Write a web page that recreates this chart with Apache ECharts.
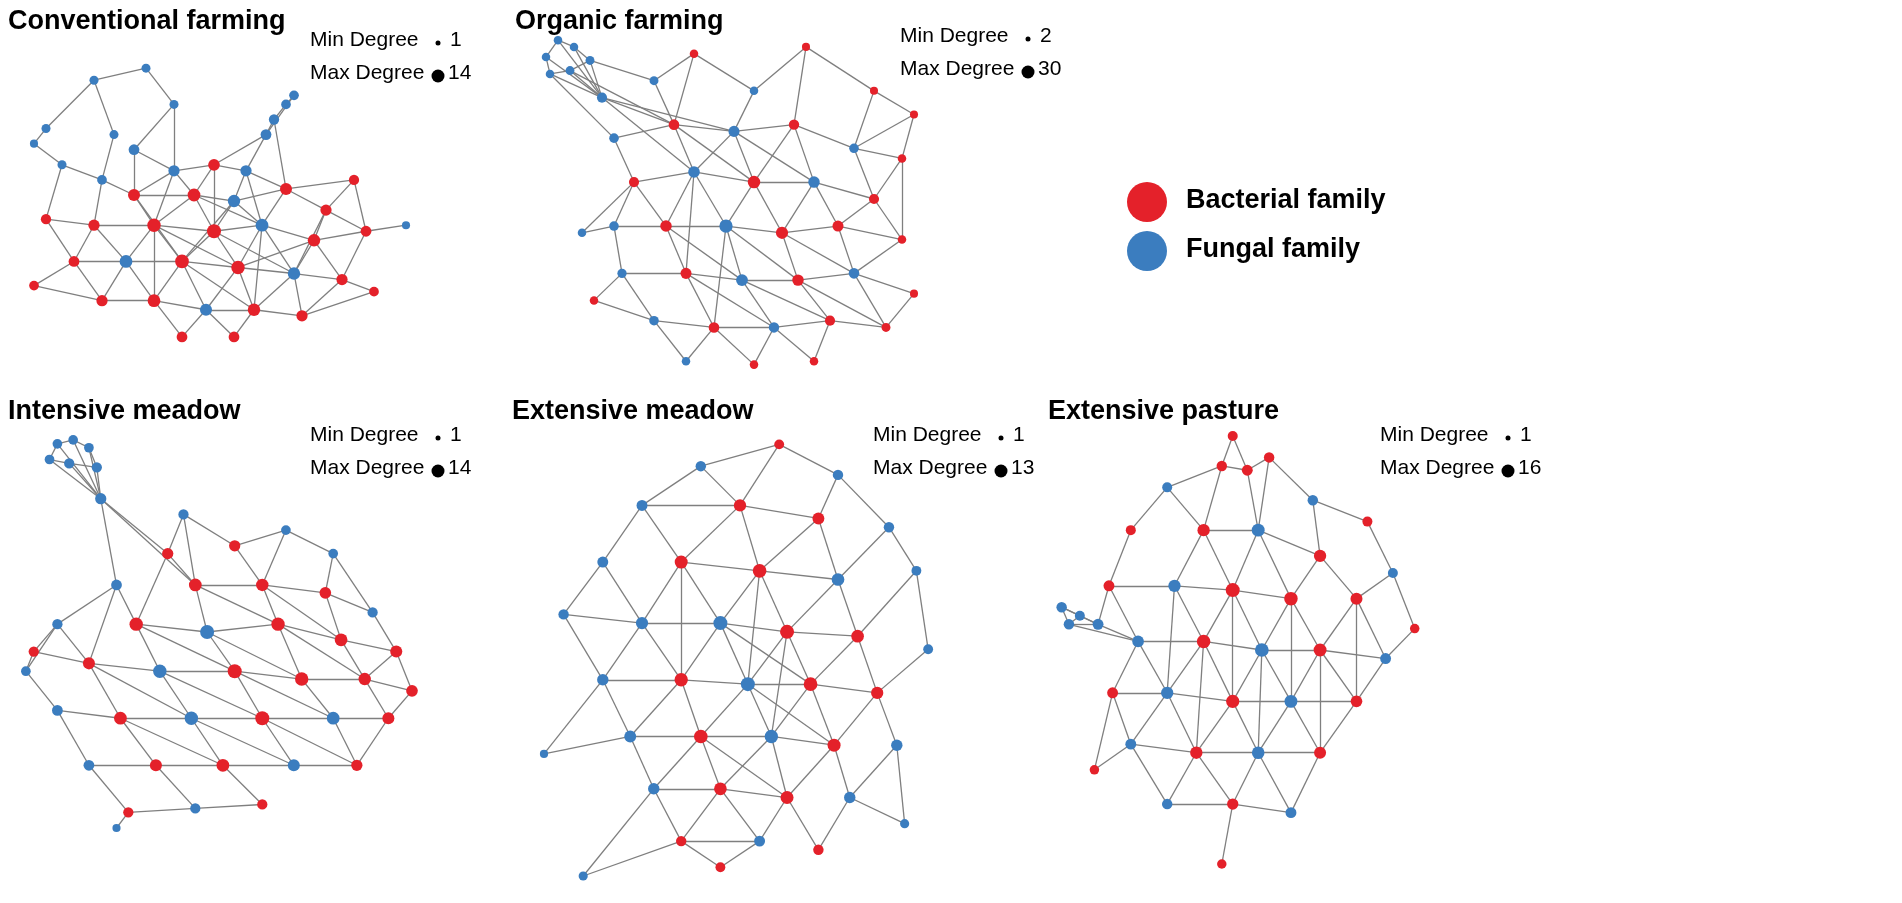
<!DOCTYPE html>
<html><head><meta charset="utf-8">
<script src="https://cdn.jsdelivr.net/npm/echarts@6/dist/echarts.min.js"></script>
<style>html,body{margin:0;padding:0;background:#fff}#c{width:1902px;height:903px}</style>
</head><body><div id="c"></div>
<script>
// panel titles and degree ranges
const panelTitles = ["Conventional farming","Organic farming","Intensive meadow","Extensive meadow","Extensive pasture"];
const minDegree = [1,2,1,1,1];
const maxDegree = [14,30,14,13,16];
// nodes: [x, y, type(0=bacterial,1=fungal), degree]
const nodesConv = [[8,28,1,2],[20,12,1,2],[33,8,1,2],[40,20,1,2],[25,30,1,2],[12,40,1,2],[5,33,1,1],[22,45,1,3],[65,25,1,4],[68,20,1,3],[70,17,1,3],[63,30,1,5],[40,42,1,6],[50,40,0,7],[58,42,1,6],[30,50,0,8],[45,50,0,10],[55,52,1,9],[68,48,0,8],[78,55,0,6],[20,60,0,6],[35,60,0,12],[50,62,0,14],[62,60,1,10],[75,65,0,9],[88,62,0,5],[15,72,0,5],[28,72,1,10],[42,72,0,13],[56,74,0,12],[70,76,1,9],[82,78,0,6],[22,85,0,6],[35,85,0,10],[48,88,1,8],[60,88,0,9],[72,90,0,6],[42,97,0,5],[55,97,0,5],[98,60,1,1],[8,58,0,4],[5,80,0,3],[90,82,0,3],[30,35,1,5],[85,45,0,4]];
const edgesConv = "0-1,1-2,2-3,3-12,0-6,6-5,5-7,4-7,4-1,3-43,43-12,7-15,7-20,5-40,8-9,9-10,10-11,8-11,11-14,11-13,8-18,12-13,13-14,12-16,13-16,14-17,14-18,15-16,16-17,17-18,18-19,15-21,16-21,16-22,17-22,17-23,18-23,19-24,19-25,20-21,21-22,22-23,23-24,24-25,20-26,20-27,21-27,21-28,22-28,22-29,23-29,23-30,24-30,24-31,25-31,26-27,27-28,28-29,29-30,30-31,26-32,27-32,27-33,28-33,28-34,29-34,29-35,30-35,30-36,31-36,32-33,33-34,34-35,35-36,33-37,34-37,34-38,35-38,25-39,40-20,40-26,41-26,41-32,42-31,42-36,44-19,44-18,44-25,15-28,21-29,22-30,16-23,12-21,13-22,17-28,23-35,21-33,28-35,24-29,43-15,12-15,14-23,19-30";
const nodesOrg = [[3,8,1,3],[6,3,1,3],[10,5,1,3],[4,13,1,3],[9,12,1,4],[14,9,1,4],[17,20,1,8],[30,15,1,4],[40,7,0,3],[55,18,1,3],[68,5,0,2],[85,18,0,2],[95,25,0,2],[20,32,1,6],[35,28,0,10],[50,30,1,12],[65,28,0,9],[80,35,1,6],[92,38,0,3],[25,45,0,8],[40,42,1,15],[55,45,0,20],[70,45,1,14],[85,50,0,8],[20,58,1,6],[33,58,0,14],[48,58,1,25],[62,60,0,18],[76,58,0,12],[92,62,0,3],[22,72,1,5],[38,72,0,12],[52,74,1,16],[66,74,0,14],[80,72,1,10],[95,78,0,2],[30,86,1,6],[45,88,0,10],[60,88,1,9],[74,86,0,8],[88,88,0,4],[38,98,1,3],[55,99,0,3],[70,98,0,3],[12,60,1,3],[15,80,0,3]];
const edgesOrg = "0-1,1-2,0-3,3-4,2-5,4-5,0-6,1-6,2-6,3-6,4-6,5-6,5-7,4-14,3-13,6-14,6-15,6-20,7-8,7-14,8-9,9-10,9-15,10-16,11-12,11-17,10-11,12-18,13-14,14-15,15-16,16-17,17-18,13-19,14-20,15-21,16-22,17-23,18-23,19-20,20-21,21-22,22-23,19-24,20-25,21-26,22-27,23-28,24-25,25-26,26-27,27-28,28-29,24-30,25-31,26-32,27-33,28-34,29-34,30-31,31-32,32-33,33-34,34-35,30-36,31-37,32-38,33-39,34-40,36-37,37-38,38-39,39-40,36-41,37-42,38-43,44-24,44-19,45-30,45-36,14-21,15-22,20-26,21-27,25-32,26-33,27-34,31-38,32-39,20-31,22-28,16-21,15-20,19-25,26-37,33-40,12-17,8-14,18-29,35-40,29-23,41-37,42-38,43-39";
const nodesInt = [[10,2,1,3],[14,1,1,3],[18,3,1,3],[8,6,1,3],[13,7,1,4],[20,8,1,4],[21,16,1,6],[42,20,1,4],[55,28,0,6],[68,24,1,3],[80,30,1,3],[38,30,0,6],[25,38,1,5],[45,38,0,10],[62,38,0,9],[78,40,0,7],[90,45,1,4],[10,48,1,4],[30,48,0,12],[48,50,1,14],[66,48,0,12],[82,52,0,10],[96,55,0,8],[2,60,1,3],[18,58,0,8],[36,60,1,12],[55,60,0,14],[72,62,0,12],[88,62,0,9],[100,65,0,7],[10,70,1,5],[26,72,0,10],[44,72,1,12],[62,72,0,14],[80,72,1,10],[94,72,0,8],[18,84,1,5],[35,84,0,8],[52,84,0,10],[70,84,1,8],[86,84,0,6],[28,96,0,4],[45,95,1,4],[62,94,0,4],[25,100,1,1],[4,55,0,4]];
const edgesInt = "0-1,1-2,0-3,3-4,4-5,2-5,0-6,1-6,2-6,3-6,4-6,5-6,6-13,6-11,6-12,7-8,7-11,8-9,9-10,8-14,10-15,10-16,11-13,12-18,11-18,13-14,14-15,15-16,12-17,13-19,14-20,15-21,16-22,17-24,18-19,19-20,20-21,21-22,17-45,45-23,23-30,18-25,19-26,20-27,21-28,22-29,24-25,25-26,26-27,27-28,28-29,24-31,25-32,26-33,27-34,28-35,29-35,30-31,31-32,32-33,33-34,34-35,30-36,31-37,32-38,33-39,34-40,36-37,37-38,38-39,39-40,36-41,37-42,38-43,41-42,42-43,44-41,18-26,19-27,25-33,26-34,13-20,24-32,31-38,32-39,33-40,20-28,14-21,17-23,45-24,35-40,22-28,12-24,7-13,9-14";
const nodesExtM = [[60,1,0,3],[40,6,1,4],[75,8,1,4],[25,15,1,5],[50,15,0,8],[70,18,0,7],[88,20,1,4],[15,28,1,5],[35,28,0,10],[55,30,0,12],[75,32,1,9],[95,30,1,3],[5,40,1,4],[25,42,1,8],[45,42,1,13],[62,44,0,13],[80,45,0,9],[98,48,1,3],[15,55,1,6],[35,55,0,11],[52,56,1,13],[68,56,0,12],[85,58,0,8],[22,68,1,7],[40,68,0,12],[58,68,1,11],[74,70,0,10],[90,70,1,6],[28,80,1,6],[45,80,0,9],[62,82,0,10],[78,82,1,6],[35,92,0,4],[55,92,1,5],[70,94,0,4],[0,72,1,1],[10,100,1,2],[92,88,1,2],[45,98,0,3]];
const edgesExtM = "0-1,0-2,0-4,1-3,1-4,2-5,2-6,3-7,3-8,4-8,4-9,5-9,5-10,6-10,6-11,7-12,7-13,8-13,8-14,9-14,9-15,10-15,10-16,11-16,11-17,12-18,13-18,13-19,14-19,14-20,15-20,15-21,16-21,16-22,17-22,18-23,19-23,19-24,20-24,20-25,21-25,21-26,22-26,22-27,23-28,24-28,24-29,25-29,25-30,26-30,26-31,27-31,28-32,29-32,29-33,30-33,30-34,31-34,35-18,35-23,36-28,36-32,37-27,37-31,38-32,38-33,8-9,13-14,14-15,15-16,19-20,20-21,21-22,24-25,25-26,29-30,9-10,18-19,23-24,28-29,32-33,14-21,20-26,9-20,8-19,15-25,24-30,3-4,4-5,12-13";
const nodesExtP = [[48,0,0,4],[45,7,0,5],[52,8,0,6],[58,5,0,5],[30,12,1,4],[70,15,1,5],[85,20,0,4],[20,22,0,4],[40,22,0,10],[55,22,1,12],[72,28,0,10],[92,32,1,4],[14,35,0,6],[32,35,1,10],[48,36,0,16],[64,38,0,14],[82,38,0,9],[98,45,0,3],[1,40,1,5],[3,44,1,5],[6,42,1,4],[11,44,1,6],[22,48,1,8],[40,48,0,14],[56,50,1,15],[72,50,0,12],[90,52,1,6],[15,60,0,6],[30,60,1,10],[48,62,0,13],[64,62,1,12],[82,62,0,8],[20,72,1,6],[38,74,0,10],[55,74,1,11],[72,74,0,9],[30,86,1,5],[48,86,0,7],[64,88,1,6],[45,100,0,3],[10,78,0,3]];
const edgesExtP = "0-1,0-2,1-2,2-3,1-8,2-9,3-9,3-5,4-8,4-7,5-10,5-6,6-11,7-12,8-9,8-13,8-14,9-14,9-15,10-15,10-16,11-16,11-17,12-13,12-22,13-14,13-23,14-15,14-23,14-24,15-24,15-25,16-25,16-26,17-26,18-19,18-20,19-21,20-21,18-21,19-22,21-22,21-12,22-23,23-24,24-25,25-26,22-27,22-28,23-28,23-29,24-29,24-30,25-30,25-31,26-31,27-28,28-29,29-30,30-31,27-32,28-32,28-33,29-33,29-34,30-34,30-35,31-35,32-33,33-34,34-35,32-36,33-36,33-37,34-37,34-38,35-38,36-37,37-38,37-39,40-32,40-27,13-28,14-29,15-30,9-10,1-4,23-33,24-34,25-35,16-31,19-20";
const legendLabels = ["Bacterial family","Fungal family"];

const RED = '#e4212a', BLUE = '#3b7dbf';
const allNodes = [nodesConv,nodesOrg,nodesInt,nodesExtM,nodesExtP];
const allEdges = [edgesConv,edgesOrg,edgesInt,edgesExtM,edgesExtP];
const grids = [
  {left:14,top:44,width:400,height:302},
  {left:534,top:30,width:400,height:338},
  {left:18,top:436,width:394,height:392},
  {left:544,top:440,width:392,height:436},
  {left:1058,top:436,width:364,height:428}
];
const titlePos = [[8,8],[515,8],[8,398],[512,398],[1048,398]];
const legPos = [[310,30],[900,26],[310,425],[873,425],[1380,425]];

const series = [], xAxis = [], yAxis = [], graphic = [];
allNodes.forEach((nodes,p)=>{
  xAxis.push({gridIndex:p,type:'value',min:0,max:100,show:false});
  yAxis.push({gridIndex:p,type:'value',min:0,max:100,inverse:true,show:false});
  const dmax = maxDegree[p];
  series.push({
    type:'graph',layout:'none',coordinateSystem:'cartesian2d',xAxisIndex:p,yAxisIndex:p,
    data:nodes.map(n=>({value:[n[0],n[1],n[3]],symbolSize:6+8*Math.sqrt(n[3]/dmax),
      itemStyle:{color:n[2]===0?RED:BLUE}})),
    links:allEdges[p].split(',').map(s=>{const a=s.split('-');return {source:+a[0],target:+a[1]};}),
    lineStyle:{color:'#7f7f7f',width:1.3,opacity:1,curveness:0},
    z:2, silent:true
  });
  graphic.push({type:'text',left:titlePos[p][0],top:titlePos[p][1],
    style:{text:panelTitles[p],font:'bold 27px "Liberation Sans", Arial',fill:'#000'}});
  const [lx,ly]=legPos[p];
  graphic.push({type:'text',left:lx,top:ly,style:{text:'Min Degree',font:'21px "Liberation Sans", Arial',fill:'#000'}});
  graphic.push({type:'circle',shape:{cx:lx+128,cy:ly+13,r:2.5},style:{fill:'#000'}});
  graphic.push({type:'text',left:lx+140,top:ly,style:{text:String(minDegree[p]),font:'21px "Liberation Sans", Arial',fill:'#000'}});
  graphic.push({type:'text',left:lx,top:ly+33,style:{text:'Max Degree',font:'21px "Liberation Sans", Arial',fill:'#000'}});
  graphic.push({type:'circle',shape:{cx:lx+128,cy:ly+46,r:6.5},style:{fill:'#000'}});
  graphic.push({type:'text',left:lx+138,top:ly+33,style:{text:String(maxDegree[p]),font:'21px "Liberation Sans", Arial',fill:'#000'}});
});
graphic.push({type:'circle',shape:{cx:1147,cy:202,r:20},style:{fill:RED}});
graphic.push({type:'text',left:1186,top:187,style:{text:legendLabels[0],font:'bold 27px "Liberation Sans", Arial',fill:'#000'}});
graphic.push({type:'circle',shape:{cx:1147,cy:251,r:20},style:{fill:BLUE}});
graphic.push({type:'text',left:1186,top:236,style:{text:legendLabels[1],font:'bold 27px "Liberation Sans", Arial',fill:'#000'}});

const chart = echarts.init(document.getElementById('c'));
chart.setOption({animation:false,backgroundColor:'#fff',grid:grids,xAxis,yAxis,series,graphic});
</script></body></html>
